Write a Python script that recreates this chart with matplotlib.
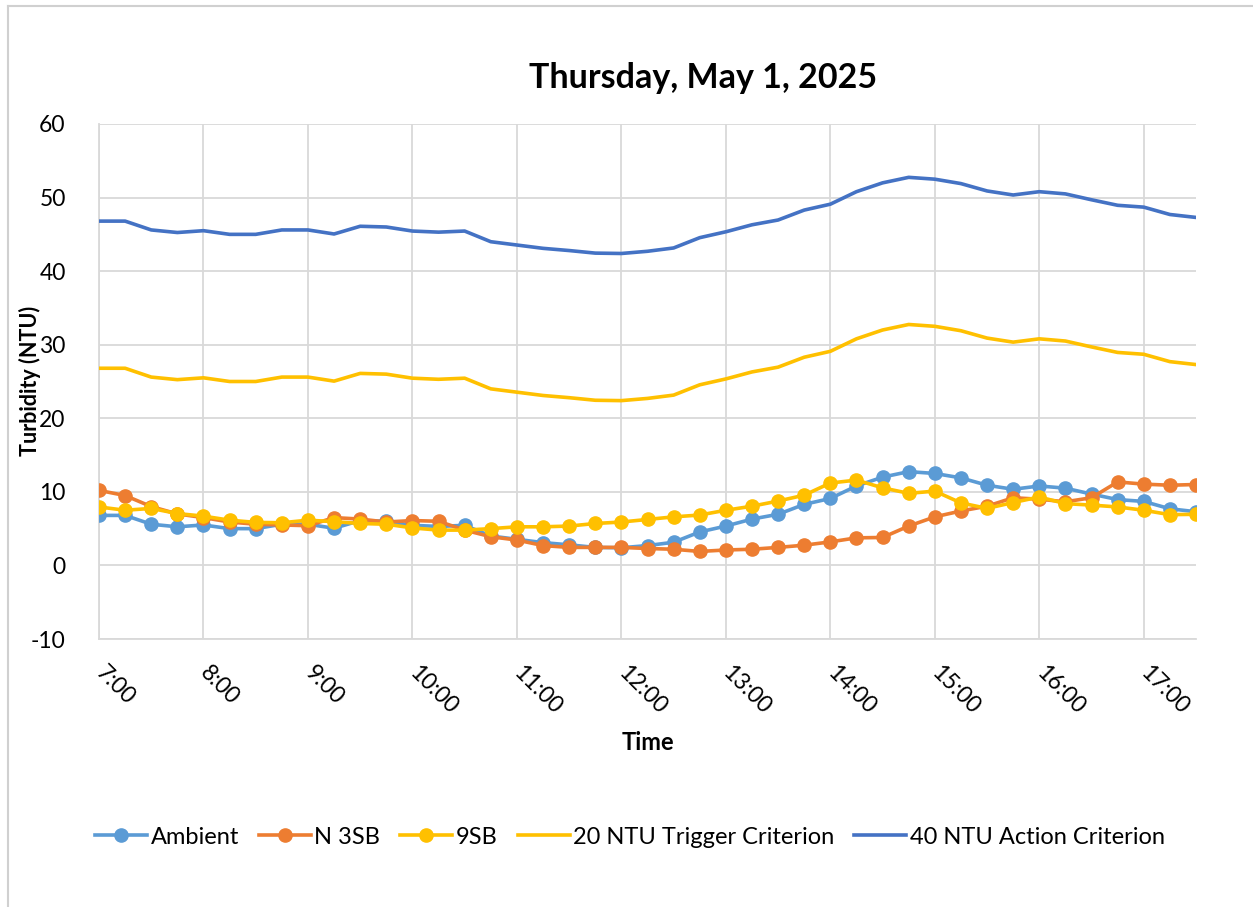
import matplotlib
matplotlib.use("Agg")
import matplotlib.pyplot as plt
from matplotlib.lines import Line2D

plt.rcParams['font.family'] = ['Lato', 'DejaVu Sans']

times = ["7:00", "7:15", "7:30", "7:45", "8:00", "8:15", "8:30", "8:45",
         "9:00", "9:15", "9:30", "9:45", "10:00", "10:15", "10:30", "10:45",
         "11:00", "11:15", "11:30", "11:45", "12:00", "12:15", "12:30", "12:45",
         "13:00", "13:15", "13:30", "13:45", "14:00", "14:15", "14:30", "14:45",
         "15:00", "15:15", "15:30", "15:45", "16:00", "16:15", "16:30", "16:45",
         "17:00", "17:15", "17:30"]

ambient = [6.8, 6.8, 5.6, 5.25, 5.5, 5.0, 5.0, 5.6, 5.6, 5.05, 6.1, 6.0, 5.45,
           5.3, 5.45, 4.0, 3.55, 3.1, 2.8, 2.45, 2.4, 2.7, 3.15, 4.55, 5.35,
           6.3, 6.95, 8.3, 9.1, 10.8, 12.0, 12.75, 12.5, 11.9, 10.9, 10.35,
           10.8, 10.5, 9.7, 8.95, 8.7, 7.7, 7.3]

n3sb = [10.2, 9.5, 8.0, 7.0, 6.5, 5.9, 5.6, 5.5, 5.4, 6.5, 6.3, 5.9, 6.1, 6.0,
        4.8, 3.9, 3.45, 2.7, 2.45, 2.45, 2.45, 2.3, 2.2, 1.9, 2.1, 2.2, 2.45,
        2.75, 3.2, 3.75, 3.8, 5.35, 6.6, 7.4, 8.05, 9.2, 9.0, 8.65, 9.2, 11.35,
        11.05, 10.9, 11.0]

sb9 = [7.95, 7.5, 7.75, 7.05, 6.7, 6.15, 5.85, 5.8, 6.15, 5.95, 5.7, 5.6, 5.1,
       4.8, 4.8, 5.0, 5.25, 5.25, 5.35, 5.7, 5.9, 6.25, 6.6, 6.85, 7.5, 8.05,
       8.75, 9.55, 11.2, 11.6, 10.55, 9.8, 10.1, 8.5, 7.75, 8.55, 9.3, 8.4,
       8.2, 7.95, 7.5, 6.9, 6.95]

trigger20 = [26.8, 26.8, 25.6, 25.25, 25.5, 25.0, 25.0, 25.6, 25.6, 25.05, 26.1,
             26.0, 25.45, 25.3, 25.45, 24.0, 23.55, 23.1, 22.8, 22.45, 22.4,
             22.7, 23.15, 24.55, 25.35, 26.3, 26.95, 28.3, 29.1, 30.8, 32.0,
             32.75, 32.5, 31.9, 30.9, 30.35, 30.8, 30.5, 29.7, 28.95, 28.7,
             27.7, 27.3]

action40 = [46.8, 46.8, 45.6, 45.25, 45.5, 45.0, 45.0, 45.6, 45.6, 45.05, 46.1,
            46.0, 45.45, 45.3, 45.45, 44.0, 43.55, 43.1, 42.8, 42.45, 42.4,
            42.7, 43.15, 44.55, 45.35, 46.3, 46.95, 48.3, 49.1, 50.8, 52.0,
            52.75, 52.5, 51.9, 50.9, 50.35, 50.8, 50.5, 49.7, 48.95, 48.7,
            47.7, 47.3]

hour_ticks = ["7:00", "8:00", "9:00", "10:00", "11:00", "12:00", "13:00",
              "14:00", "15:00", "16:00", "17:00"]
y_ticks = [-10, 0, 10, 20, 30, 40, 50, 60]

def to_hours(t):
    h, m = t.split(":")
    return int(h) + int(m) / 60.0

x = [to_hours(t) for t in times]

W, H = 1253, 907
fig = plt.figure(figsize=(W / 100, H / 100), dpi=100)
fig.patch.set_facecolor("white")

ax = fig.add_axes([99 / W, 1 - 639 / H, (1196 - 99) / W, (639 - 124) / H])

lw = 2.6
ms = 9.5
ax.plot(x, ambient, color="#5B9BD5", lw=lw, marker="o", ms=ms, label="Ambient", zorder=3)
ax.plot(x, n3sb, color="#ED7D31", lw=lw, marker="o", ms=ms, label="N 3SB", zorder=4)
ax.plot(x, sb9, color="#FFC000", lw=lw, marker="o", ms=ms, label="9SB", zorder=5)
ax.plot(x, trigger20, color="#FFC000", lw=lw, label="20 NTU Trigger Criterion", zorder=6)
ax.plot(x, action40, color="#4472C4", lw=lw, label="40 NTU Action Criterion", zorder=7)

ax.set_xlim(x[0], x[-1])
ax.set_ylim(-10, 60)
ax.set_yticks(y_ticks)
ax.set_yticklabels([str(v) for v in y_ticks])
ax.set_xticks([to_hours(t) for t in hour_ticks])
ax.set_xticklabels(hour_ticks, rotation=-45, ha="left", va="center",
                   rotation_mode="anchor")

ax.grid(True, color="#D9D9D9", lw=1.3)
ax.set_axisbelow(True)
for s in ["top", "right"]:
    ax.spines[s].set_visible(False)
for s in ["left", "bottom"]:
    ax.spines[s].set_color("#D9D9D9")
    ax.spines[s].set_linewidth(1.3)
ax.tick_params(axis="both", length=0, labelsize=16.5, colors="black")
ax.tick_params(axis="y", pad=24)
ax.tick_params(axis="x", pad=22)

fig.text(30 / W, 1 - 381 / H, "Turbidity (NTU)", rotation=90, ha="center",
         va="center", fontsize=15.5, fontweight="bold")
fig.text(648 / W, 1 - 742 / H, "Time", ha="center", va="center",
         fontsize=17, fontweight="bold")
fig.text(703 / W, 1 - 78 / H, "Thursday, May 1, 2025", ha="center",
         va="center", fontsize=24.5, fontweight="bold")

handles, labels = ax.get_legend_handles_labels()
fig.legend(handles, labels, loc="center", bbox_to_anchor=(630 / W, 1 - 837 / H),
           ncol=5, frameon=False, fontsize=17, handlelength=2.2,
           handletextpad=0.15, columnspacing=0.85, borderaxespad=0)

# chart frame (cropped at right and bottom)
fig.add_artist(Line2D([7.5 / W, 7.5 / W], [0, 1 - 6 / H], transform=fig.transFigure,
                      color="#D0D0D0", lw=1.5))
fig.add_artist(Line2D([7.5 / W, 1], [1 - 6 / H, 1 - 6 / H], transform=fig.transFigure,
                      color="#D0D0D0", lw=1.5))

fig.savefig("out.png", dpi=100)
